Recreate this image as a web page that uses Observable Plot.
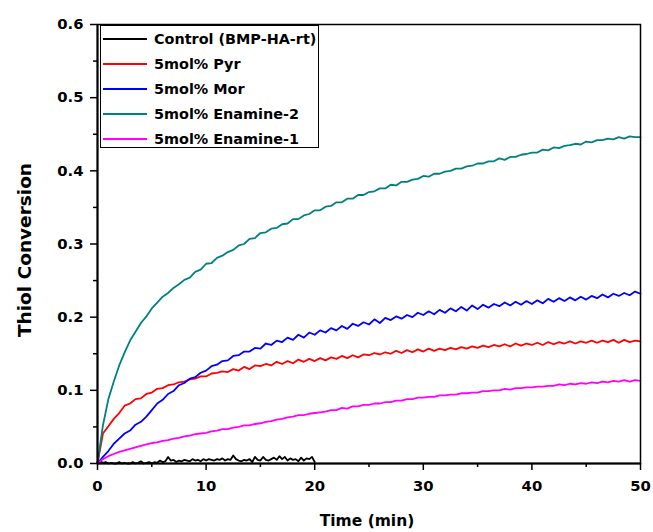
<!DOCTYPE html>
<html><head><meta charset="utf-8">
<script src="https://cdn.jsdelivr.net/npm/d3@7"></script>
<script src="https://cdn.jsdelivr.net/npm/@observablehq/plot@0.6"></script>
<style>
body{margin:0;background:#fff;}
#wrap{position:relative;width:653px;height:532px;font-family:"DejaVu Sans",sans-serif;font-weight:bold;color:#000;}
#legend{position:absolute;left:100px;top:25px;width:219px;height:123px;border:1px solid #000;box-sizing:border-box;background:#fff;}
.row{position:absolute;left:0;height:20px;width:100%;}
.sw{position:absolute;left:2px;width:44px;top:9px;height:0;border-top:2px solid #000;}
.lt{position:absolute;left:53px;top:0;font-size:14.4px;line-height:20px;white-space:nowrap;}
#ytitle{position:absolute;left:24px;top:250px;transform:translate(-50%,-50%) rotate(-90deg);font-size:18.5px;white-space:nowrap;}
#xtitle{position:absolute;left:367px;top:521px;transform:translate(-50%,-50%);font-size:15.5px;white-space:nowrap;}
</style>
</head><body>
<div id="wrap"></div>
<script>
const seriesNames = ["Control (BMP-HA-rt)","5mol% Pyr","5mol% Mor","5mol% Enamine-2","5mol% Enamine-1"];
const seriesColors = ["#000000","#ff0000","#0000ff","#008080","#ff00ff"];
const xTicks = [0,10,20,30,40,50];
const xMinorTicks = [5,15,25,35,45];
const yTicks = [0,0.1,0.2,0.3,0.4,0.5,0.6];
const yMinorTicks = [0.05,0.15,0.25,0.35,0.45,0.55];
const xTitle = "Time (min)";
const yTitle = "Thiol Conversion";

// sampling grids (minutes)
const times = d3.range(0, 50.0001, 0.5);
const controlTimes = d3.range(0, 20.0001, 0.25);

const control = [
0.000,0.003,0.001,0.002,0.000,0.001,0.000,0.000,0.002,0.000,0.001,0.000,0.000,0.002,0.000,0.001,0.003,0.000,0.001,0.002,
0.000,0.002,0.001,0.004,0.002,0.003,0.009,0.004,0.005,0.002,0.004,0.003,0.005,0.004,0.003,0.006,0.004,0.005,0.003,0.006,
0.004,0.006,0.005,0.004,0.006,0.005,0.007,0.004,0.006,0.005,0.011,0.006,0.004,0.003,0.005,0.004,0.006,0.002,0.009,0.005,
0.004,0.009,0.005,0.004,0.006,0.008,0.005,0.010,0.006,0.009,0.004,0.007,0.005,0.006,0.003,0.008,0.004,0.007,0.006,0.009,
0.002];

const pyr = [
0.000,0.041,0.051,0.061,0.069,0.079,0.082,0.088,0.089,0.095,
0.097,0.102,0.103,0.107,0.108,0.111,0.112,0.115,0.116,0.119,
0.119,0.123,0.124,0.126,0.125,0.129,0.127,0.132,0.129,0.134,
0.133,0.136,0.134,0.139,0.136,0.140,0.137,0.142,0.139,0.143,
0.140,0.144,0.141,0.145,0.143,0.147,0.144,0.148,0.145,0.149,
0.148,0.151,0.149,0.152,0.150,0.154,0.151,0.155,0.152,0.156,
0.153,0.157,0.154,0.157,0.155,0.158,0.156,0.159,0.157,0.160,
0.158,0.161,0.159,0.162,0.160,0.163,0.160,0.164,0.161,0.164,
0.162,0.165,0.162,0.166,0.163,0.166,0.164,0.167,0.164,0.167,
0.165,0.168,0.165,0.168,0.166,0.169,0.165,0.169,0.166,0.168,
0.167];

const mor = [
0.000,0.009,0.017,0.027,0.034,0.041,0.045,0.053,0.057,0.064,
0.073,0.082,0.087,0.095,0.099,0.107,0.110,0.116,0.118,0.124,
0.127,0.133,0.135,0.140,0.141,0.147,0.148,0.153,0.153,0.158,
0.157,0.164,0.162,0.168,0.166,0.172,0.169,0.176,0.172,0.179,
0.176,0.182,0.179,0.185,0.182,0.188,0.184,0.191,0.188,0.193,
0.190,0.197,0.192,0.199,0.196,0.201,0.198,0.203,0.200,0.206,
0.203,0.208,0.204,0.210,0.206,0.212,0.208,0.214,0.209,0.216,
0.211,0.217,0.213,0.218,0.215,0.220,0.216,0.221,0.217,0.222,
0.218,0.223,0.219,0.225,0.221,0.226,0.222,0.227,0.223,0.228,
0.224,0.229,0.226,0.231,0.227,0.232,0.229,0.233,0.230,0.235,
0.232];

const enamine2 = [
0.000,0.052,0.088,0.112,0.134,0.152,0.168,0.180,0.192,0.201,
0.212,0.220,0.228,0.233,0.240,0.245,0.251,0.254,0.262,0.265,
0.273,0.274,0.281,0.284,0.289,0.292,0.298,0.300,0.307,0.308,
0.315,0.316,0.321,0.322,0.327,0.328,0.334,0.334,0.339,0.341,
0.346,0.346,0.351,0.352,0.357,0.357,0.362,0.362,0.367,0.367,
0.371,0.372,0.376,0.376,0.381,0.380,0.385,0.385,0.388,0.389,
0.393,0.392,0.396,0.396,0.399,0.400,0.403,0.403,0.406,0.407,
0.410,0.410,0.413,0.413,0.417,0.415,0.419,0.419,0.422,0.423,
0.425,0.425,0.429,0.428,0.432,0.431,0.434,0.435,0.437,0.436,
0.440,0.439,0.442,0.442,0.444,0.443,0.446,0.444,0.447,0.446,
0.446];

const enamine1 = [
0.000,0.006,0.010,0.013,0.016,0.018,0.020,0.022,0.024,0.026,
0.028,0.029,0.031,0.032,0.034,0.035,0.037,0.038,0.040,0.041,
0.042,0.044,0.045,0.047,0.047,0.049,0.050,0.052,0.052,0.054,
0.055,0.057,0.058,0.060,0.061,0.063,0.064,0.066,0.066,0.068,
0.069,0.070,0.071,0.073,0.073,0.076,0.075,0.078,0.078,0.080,
0.080,0.082,0.082,0.084,0.084,0.086,0.086,0.088,0.088,0.090,
0.090,0.091,0.091,0.093,0.093,0.094,0.094,0.096,0.096,0.097,
0.097,0.099,0.099,0.100,0.100,0.102,0.101,0.103,0.103,0.104,
0.104,0.105,0.105,0.106,0.106,0.108,0.107,0.109,0.108,0.110,
0.109,0.111,0.110,0.112,0.111,0.113,0.112,0.114,0.112,0.114,
0.113];

const rows = [];
control.forEach((v, i) => rows.push({t: controlTimes[i], v, s: seriesNames[0]}));
[pyr, mor, enamine2, enamine1].forEach((arr, k) =>
  arr.forEach((v, i) => rows.push({t: times[i], v, s: seriesNames[k + 1]})));

const chart = Plot.plot({
  width: 653, height: 532,
  marginLeft: 97, marginRight: 13, marginTop: 24, marginBottom: 69,
  style: {fontFamily: "DejaVu Sans, sans-serif", fontWeight: "bold", fontSize: "14.8px", background: "transparent", color: "#000"},
  x: {domain: [0, 50]},
  y: {domain: [0, 0.6]},
  color: {domain: seriesNames, range: seriesColors},
  marks: [
    Plot.line(rows, {x: "t", y: "v", z: "s", stroke: "s", strokeWidth: 1.8}),
    Plot.frame({stroke: "#000", strokeWidth: 1.5}),
    Plot.ruleX([0], {stroke: "#000", strokeWidth: 2}),
    Plot.ruleY([0], {stroke: "#000", strokeWidth: 2}),
    Plot.axisX(xTicks, {tickSize: 7, tickPadding: 10, strokeWidth: 1.5, tickFormat: d => String(d), label: null}),
    Plot.axisX(xMinorTicks, {tickSize: 4, strokeWidth: 1.5, tickFormat: () => "", label: null}),
    Plot.axisY(yTicks, {tickSize: 7, tickPadding: 7, strokeWidth: 1.5, tickFormat: d3.format(".1f"), label: null}),
    Plot.axisY(yMinorTicks, {tickSize: 4, strokeWidth: 1.5, tickFormat: () => "", label: null})
  ]
});

const wrap = document.getElementById("wrap");
wrap.appendChild(chart);

const legend = document.createElement("div");
legend.id = "legend";
seriesNames.forEach((name, i) => {
  const row = document.createElement("div");
  row.className = "row";
  row.style.top = (3 + i * 25) + "px";
  const sw = document.createElement("div");
  sw.className = "sw";
  sw.style.borderTopColor = seriesColors[i];
  const lt = document.createElement("div");
  lt.className = "lt";
  lt.textContent = name;
  row.appendChild(sw); row.appendChild(lt);
  legend.appendChild(row);
});
wrap.appendChild(legend);

const yt = document.createElement("div"); yt.id = "ytitle"; yt.textContent = yTitle; wrap.appendChild(yt);
const xt = document.createElement("div"); xt.id = "xtitle"; xt.textContent = xTitle; wrap.appendChild(xt);
</script>
</body></html>
